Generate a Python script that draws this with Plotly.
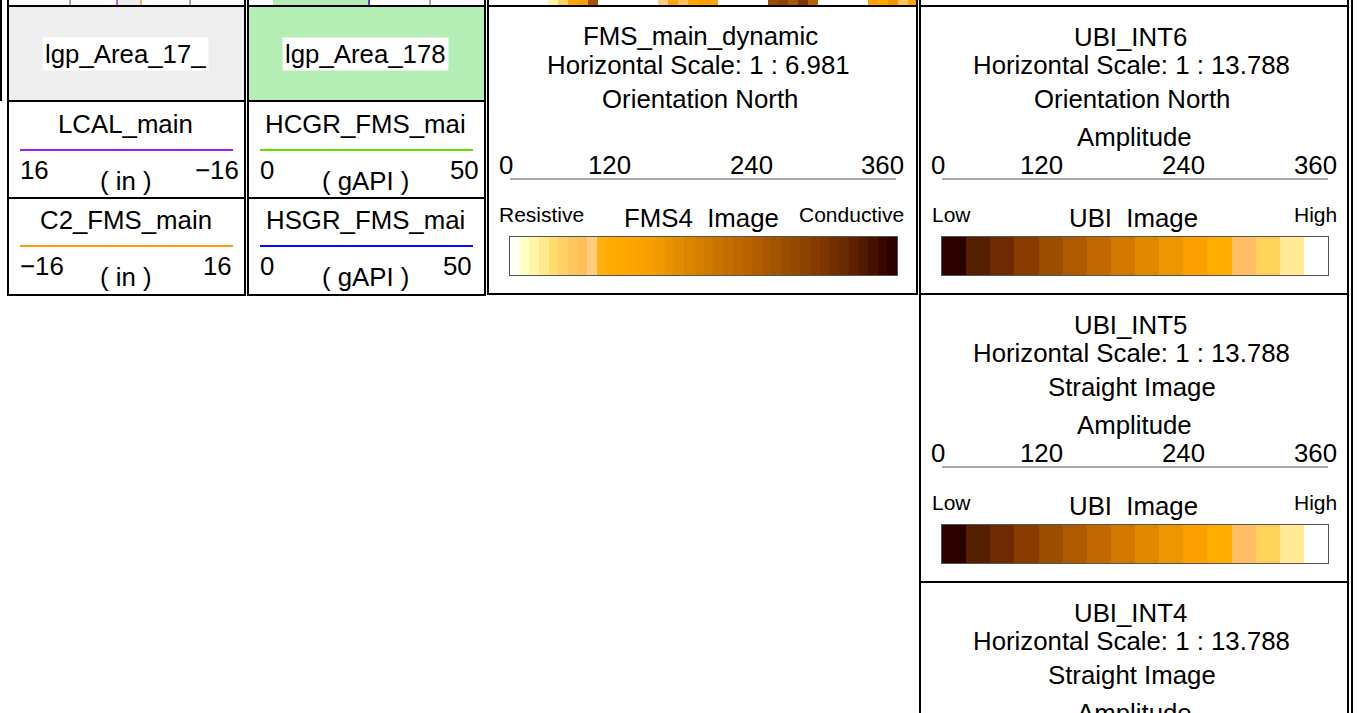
import plotly.graph_objects as go

W, H = 1359, 713
FONT = "Liberation Sans, Arial, Helvetica, sans-serif"
BIG = 25.8
SMALL = 21

# ---- data -------------------------------------------------------------
# FMS4 image palette (resistive -> conductive), 40 steps
FMS_COLORS = [
    "#fffff4", "#ffffc8", "#fff6a8", "#ffe98a", "#ffdc70", "#ffd064", "#ffc65e", "#ffc05a",
    "#ffcc80", "#ffb010", "#ffaa00", "#ffa800", "#ffa500", "#fca200", "#f79e00", "#f09800",
    "#e99200", "#e28c00", "#dc8600", "#d68000", "#d07a00", "#ca7400", "#c46e00", "#be6800",
    "#b86200", "#b25e00", "#aa5800", "#a45400", "#9c4e00", "#944800", "#8c4200", "#843c00",
    "#7c3600", "#723000", "#682a00", "#5c2200", "#501a00", "#441000", "#380800", "#2a0000",
]
# UBI image palette (low -> high), 16 classes
UBI_COLORS = [
    "#2b0000", "#561e00", "#6e2a00", "#8a3c00", "#9e4e00", "#ad5a00", "#c26800", "#d27800",
    "#df8800", "#ec9600", "#fca000", "#ffae00", "#ffbe64", "#ffd35a", "#ffeb96", "#ffffff",
]
# bits of the FMS image of the track above (index into FMS_COLORS, None = gap)
TOP_FRAGMENT = [
    None, None, None, None, None, None, 2, 5, 11, 14, 27, None, None, None, None, None,
    None, 8, 12, 7, 10, 13, 12, None, None, None, None, None, 28, 30, 26, 32,
    24, None, None, None, None, None, 13, 10, 15, 7, 12,
]
SCALE_TICKS = ["0", "120", "240", "360"]

CURVES_T1 = [("LCAL_main", "#a020f0", "16", "( in )", "\u221216"),
             ("C2_FMS_main", "#ff9a10", "\u221216", "( in )", "16")]
CURVES_T2 = [("HCGR_FMS_mai", "#66dd00", "0", "( gAPI )", "50"),
             ("HSGR_FMS_mai", "#0a0aff", "0", "( gAPI )", "50")]
UBI_PANELS = [("UBI_INT6", "Horizontal Scale: 1 : 13.788", "Orientation North"),
              ("UBI_INT5", "Horizontal Scale: 1 : 13.788", "Straight Image"),
              ("UBI_INT4", "Horizontal Scale: 1 : 13.788", "Straight Image")]


def dom_x(a, b):
    return [a / W, b / W]


def dom_y(top, bottom):
    return [1 - bottom / H, 1 - top / H]


def scale_of(colors):
    n = len(colors)
    return [[i / (n - 1), c] for i, c in enumerate(colors)]


fig = go.Figure()
shapes = []
ann = []


def txt(x, y, s, size=BIG, xanchor="center", bg=None):
    a = dict(x=x, y=y, xref="x", yref="y", text=s, showarrow=False, xanchor=xanchor,
             yanchor="middle", font=dict(family=FONT, size=size, color="black"))
    if bg:
        a.update(bgcolor=bg, borderpad=2)
    ann.append(a)


def rect(x0, y0, x1, y1, fill=None, lw=2, color="black", layer="above"):
    d = dict(type="rect", xref="x", yref="y", x0=x0, y0=y0, x1=x1, y1=y1, layer=layer)
    d["line"] = dict(color=color, width=lw) if lw else dict(width=0)
    if fill:
        d["fillcolor"] = fill
    shapes.append(d)


def hline(x0, x1, y, color, lw=2):
    shapes.append(dict(type="line", xref="x", yref="y", x0=x0, x1=x1, y0=y, y1=y,
                       line=dict(color=color, width=lw)))


def vline(x, y0, y1, color, lw=2):
    shapes.append(dict(type="line", xref="x", yref="y", x0=x, x1=x, y0=y0, y1=y1,
                       line=dict(color=color, width=lw)))


# ---- invisible base axis in pixel units ------------------------------
fig.add_trace(go.Scatter(x=[0, W], y=[0, H], mode="markers", marker=dict(opacity=0),
                         hoverinfo="skip", showlegend=False))

# ---- heatmap colour bars ------------------------------------------------
bars = [
    ("x2", "y2", FMS_COLORS, dom_x(510, 897), dom_y(237, 275)),
    ("x3", "y3", UBI_COLORS, dom_x(942, 1328), dom_y(237, 275)),
    ("x4", "y4", UBI_COLORS, dom_x(942, 1328), dom_y(525, 563)),
]
layout_axes = {}
for xa, ya, cols, dx, dy in bars:
    n = len(cols)
    fig.add_trace(go.Heatmap(z=[list(range(n))], colorscale=scale_of(cols), zmin=0, zmax=n - 1,
                             showscale=False, hoverinfo="skip", xaxis=xa, yaxis=ya))
    ax = dict(domain=dx, range=[-0.5, n - 0.5], showline=True, mirror=True, linecolor="#555555",
              linewidth=1, showticklabels=False, ticks="", showgrid=False, zeroline=False,
              anchor=ya, fixedrange=True)
    ay = dict(domain=dy, range=[-0.5, 0.5], showline=True, mirror=True, linecolor="#555555",
              linewidth=1, showticklabels=False, ticks="", showgrid=False, zeroline=False,
              anchor=xa, fixedrange=True)
    layout_axes["xaxis" + xa[1:]] = ax
    layout_axes["yaxis" + ya[1:]] = ay

# strip of image left over from the track above
fig.add_trace(go.Heatmap(z=[TOP_FRAGMENT], colorscale=scale_of(FMS_COLORS), zmin=0,
                         zmax=len(FMS_COLORS) - 1, showscale=False, hoverinfo="skip",
                         xaxis="x5", yaxis="y5"))
layout_axes["xaxis5"] = dict(domain=dom_x(488, 918), range=[-0.5, len(TOP_FRAGMENT) - 0.5],
                             visible=False, anchor="y5", fixedrange=True)
layout_axes["yaxis5"] = dict(domain=dom_y(0, 5), range=[-0.5, 0.5], visible=False,
                             anchor="x5", fixedrange=True)

# ---- top strip (track above) -------------------------------------------
rect(117, 0, 141, 5, fill="#eeeeee", lw=0, layer="below")
rect(273, 0, 369, 5, fill="#b4eeb4", lw=0, layer="below")
for x in (70, 190, 430):
    vline(x, 0, 5, "#888888", 1.5)
vline(117, 0, 5, "#b030f0", 1.5)
vline(141, 0, 5, "#ff9a10", 1.5)
vline(369, 0, 5, "#0a0aff", 1.5)
for x in (8, 245, 248, 485, 488, 917, 920, 1348):
    vline(x, 0, 6, "black", 2)
vline(1, 0, 101, "black", 2)
vline(1352, 0, H, "black", 2)

# ---- curve tracks ------------------------------------------------------
rect(8, 6, 245, 101, fill="#eeeeee", lw=0, layer="below")
rect(248, 6, 485, 101, fill="#b4eeb4", lw=0, layer="below")
txt(125, 54, "lgp_Area_17_", bg="white")
txt(365, 54, "lgp_Area_178", bg="white")

for (x0, x1), curves in (((8, 245), CURVES_T1), ((248, 485), CURVES_T2)):
    rect(x0, 6, x1, 295)
    hline(x0, x1, 101, "black")
    hline(x0, x1, 198, "black")
    for i, (name, col, left, unit, right) in enumerate(curves):
        off = i * 96
        cx = (x0 + x1) / 2
        txt(cx - 1, 124 + off, name)
        hline(x0 + 12, x1 - 12, 150 + off, col, 2)
        txt(x0 + 10, 170 + off, left, xanchor="left")
        txt(cx - 1, 181 + off, unit)
        txt(x1 - 4 - 7 * i, 170 + off, right, xanchor="right")

# ---- FMS image header --------------------------------------------------
rect(488, 6, 917, 294)
txt(700, 36, "FMS_main_dynamic")
txt(698, 65, "Horizontal Scale: 1 : 6.981")
txt(700, 99, "Orientation North")
for lab, x, anc in zip(SCALE_TICKS, (497, 609, 751, 906), ("left", "center", "center", "right")):
    txt(x, 165, lab, xanchor=anc)
hline(510, 896, 179, "#555555", 1.2)
txt(497, 214, "Resistive", size=SMALL, xanchor="left")
txt(701, 218, "FMS4\u00a0 Image")
txt(906, 214, "Conductive", size=SMALL, xanchor="right")

# ---- UBI image headers ---------------------------------------------------
for i, (name, hs, mode) in enumerate(UBI_PANELS):
    off = i * 288
    rect(920, 6 + off, 1348, 294 + off if i < 2 else H + 20)
    txt(1130, 37 + off, name)
    txt(1131, 65 + off, hs)
    txt(1132, 99 + off, mode)
    txt(1134, 137 + off, "Amplitude")
    if i < 2:
        for lab, x, anc in zip(SCALE_TICKS, (929, 1041, 1183, 1339),
                               ("left", "center", "center", "right")):
            txt(x, 165 + off, lab, xanchor=anc)
        hline(942, 1328, 179 + off, "#555555", 1.2)
        txt(930, 214 + off, "Low", size=SMALL, xanchor="left")
        txt(1133, 218 + off, "UBI\u00a0 Image")
        txt(1339, 214 + off, "High", size=SMALL, xanchor="right")

fig.update_layout(
    width=W, height=H,
    margin=dict(l=0, r=0, t=0, b=0),
    paper_bgcolor="white", plot_bgcolor="rgba(0,0,0,0)",
    showlegend=False,
    xaxis=dict(domain=[0, 1], range=[0, W], visible=False, fixedrange=True),
    yaxis=dict(domain=[0, 1], range=[H, 0], visible=False, fixedrange=True),
    shapes=shapes, annotations=ann,
    **layout_axes,
)

fig.write_html("out.html", config={"displayModeBar": False},
               post_script="document.body.style.margin='0';document.body.style.overflow='hidden';")
